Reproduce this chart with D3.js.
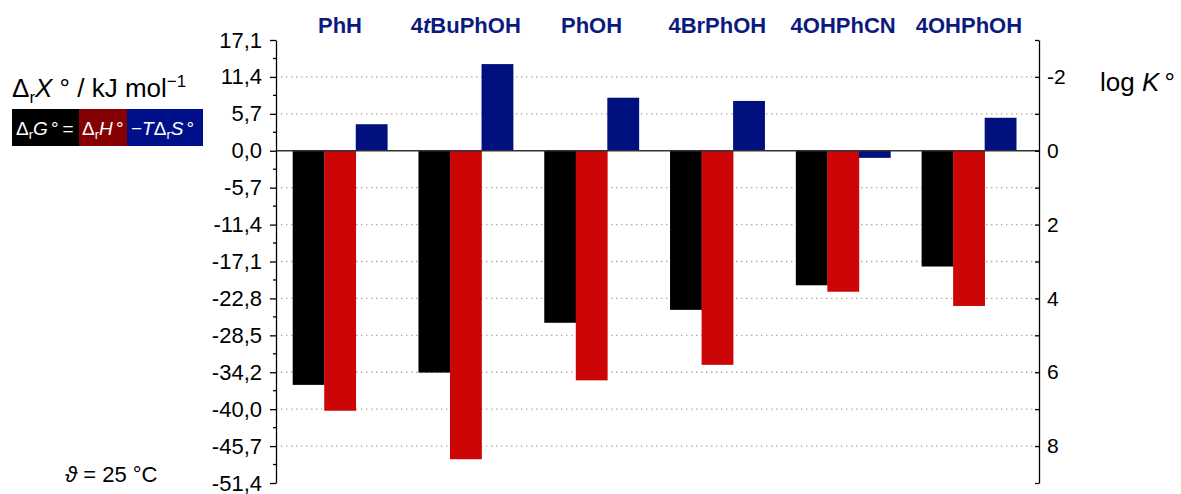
<!DOCTYPE html>
<html><head><meta charset="utf-8">
<script src="https://cdn.jsdelivr.net/npm/d3@7"></script>
<style>
body{margin:0;background:#fff}
svg{display:block}
text{font-family:"Liberation Sans",Arial,sans-serif}
</style>
</head><body><svg id="c" width="1181" height="494"></svg>
<script>
// ---- data ----
const categories = ["PhH","4tBuPhOH","PhOH","4BrPhOH","4OHPhCN","4OHPhOH"];
const dG   = [-36.2,-34.3,-26.6,-24.6,-20.8,-17.9];   // ΔrG° kJ/mol
const dH   = [-40.2,-47.7,-35.5,-33.1,-21.8,-24.0];   // ΔrH° kJ/mol
const mTdS = [4.1,13.4,8.2,7.7,-1.1,5.1];             // −TΔrS° kJ/mol
const logKTicks = [-3,-2,-1,0,1,2,3,4,5,6,7,8,9];
const kJTickLabels = ["17,1","11,4","5,7","0,0","-5,7","-11,4","-17,1","-22,8","-28,5","-34,2","-40,0","-45,7","-51,4"];
const logKTickLabels = ["","-2","","0","","2","","4","","6","","8",""];
const RTln10 = 5.708; // kJ/mol at 25 °C

const series = [
  {key:"dG", values:dG, color:"#000000"},
  {key:"dH", values:dH, color:"#cc0606"},
  {key:"mTdS", values:mTdS, color:"#00107f"}
];

const svg = d3.select("#c");
const yTop = 40, yBot = 483, xL = 276, xR = 1039;

const y = d3.scaleLinear().domain([-logKTicks[0]*RTln10, -logKTicks[logKTicks.length-1]*RTln10]).range([yTop,yBot]);
const yK = d3.scaleLinear().domain([logKTicks[0], logKTicks[logKTicks.length-1]]).range([yTop,yBot]);

const x0 = d3.scaleBand().domain(categories).range([277.1,1031.8]).paddingInner(0.248).paddingOuter(0.124);
const x1 = d3.scaleBand().domain(series.map(s=>s.key)).range([0,x0.bandwidth()]);

// gridlines
const gridVals = logKTicks.slice(1,-1).filter(k=>k!==0).map(k=>-k*RTln10);
svg.append("g").selectAll("line").data(gridVals).join("line")
  .attr("x1",xL).attr("x2",xR).attr("y1",d=>y(d)).attr("y2",d=>y(d))
  .attr("stroke","#a8a8a8").attr("stroke-width",1.4).attr("stroke-dasharray","1.4,3.6");

// bars
const gBars = svg.append("g");
series.forEach(s=>{
  gBars.append("g").selectAll("rect").data(categories).join("rect")
    .attr("x",(c)=>x0(c)+x1(s.key))
    .attr("width",x1.bandwidth()+0.3)
    .attr("y",(c,i)=>Math.min(y(s.values[i]),y(0)))
    .attr("height",(c,i)=>Math.abs(y(s.values[i])-y(0)))
    .attr("fill",s.color);
});

// zero line
svg.append("line").attr("x1",xL).attr("x2",xR).attr("y1",y(0)).attr("y2",y(0))
  .attr("stroke","#333").attr("stroke-width",1.3);

// left axis
const leftAxis = d3.axisLeft(y)
  .tickValues(logKTicks.map(k=>-k*RTln10))
  .tickFormat((d,i)=>kJTickLabels[i])
  .tickSizeInner(6).tickSizeOuter(0).tickPadding(8);
const gl = svg.append("g").attr("transform",`translate(${xL},0)`).call(leftAxis);
gl.selectAll("text").attr("font-size",22).attr("fill","#000").style("font-family","'Liberation Sans',Arial,sans-serif");
const minorL = [];
for(let i=0;i<logKTicks.length-1;i++) minorL.push(-(logKTicks[i]+0.5)*RTln10);
gl.append("g").selectAll("line").data(minorL).join("line")
  .attr("x1",-3).attr("x2",0).attr("y1",d=>y(d)).attr("y2",d=>y(d)).attr("stroke","#000").attr("stroke-width",1.3);
gl.selectAll("path.domain,.tick line").attr("stroke","#000").attr("stroke-width",1.3);

// right axis
const rightAxis = d3.axisRight(yK)
  .tickValues(logKTicks)
  .tickFormat((d,i)=>logKTickLabels[i])
  .tickSizeInner(-4).tickSizeOuter(0).tickPadding(8);
const gr = svg.append("g").attr("transform",`translate(${xR},0)`).call(rightAxis);
gr.selectAll("text").attr("font-size",21).attr("fill","#000").style("font-family","'Liberation Sans',Arial,sans-serif");
gr.selectAll("path.domain,.tick line").attr("stroke","#000").attr("stroke-width",1.3);

// category labels
const italicAt = {"4tBuPhOH":1};
const gc = svg.append("g");
categories.forEach(c=>{
  const t = gc.append("text").attr("x",x0(c)+x0.bandwidth()/2).attr("y",33)
    .attr("text-anchor","middle").attr("font-size",22).attr("font-weight","bold").attr("fill","#0c1a80");
  if(c in italicAt){
    const k = italicAt[c];
    t.append("tspan").text(c.slice(0,k));
    t.append("tspan").attr("font-style","italic").text(c[k]);
    t.append("tspan").text(c.slice(k+1));
  } else t.text(c);
});

// left title
const tt = svg.append("text").attr("x",12).attr("y",97).attr("font-size",26).attr("fill","#000");
tt.append("tspan").text("Δ");
tt.append("tspan").attr("font-size",17).attr("dy",6).text("r");
tt.append("tspan").attr("dy",-6).attr("font-style","italic").text("X");
tt.append("tspan").text(" ° / kJ mol");
tt.append("tspan").attr("font-size",17).attr("dy",-10).text("−1");

// legend box
const lg = svg.append("g");
lg.append("rect").attr("x",12).attr("y",109).attr("width",67).attr("height",37).attr("fill","#000");
lg.append("rect").attr("x",79).attr("y",109).attr("width",48).attr("height",37).attr("fill","#850000");
lg.append("rect").attr("x",127).attr("y",109).attr("width",76).attr("height",37).attr("fill","#00108a");
function sym(x, parts){
  const t = lg.append("text").attr("x",x).attr("y",135).attr("font-size",19).attr("fill","#fff");
  parts.forEach(p=>{
    const s = t.append("tspan").text(p.t);
    if(p.i) s.attr("font-style","italic");
    if(p.sub){ s.attr("font-size",13).attr("dy",4); }
    if(p.up){ s.attr("dy",-4); }
  });
}
sym(16,[{t:"Δ"},{t:"r",sub:1},{t:"G",i:1,up:1},{t:"\u2006°"},{t:"\u2009="}]);
sym(82,[{t:"Δ"},{t:"r",sub:1},{t:"H",i:1,up:1},{t:"\u2006°"}]);
sym(131,[{t:"−"},{t:"T",i:1},{t:"Δ"},{t:"r",sub:1},{t:"S",i:1,up:1},{t:"\u2006°"}]);

// right title
const rt = svg.append("text").attr("x",1100).attr("y",91).attr("font-size",26).attr("fill","#000");
rt.append("tspan").text("log ");
rt.append("tspan").attr("font-style","italic").text("K");
rt.append("tspan").text("\u2009°");

// temperature
const tp = svg.append("text").attr("x",65).attr("y",482).attr("font-size",22).attr("fill","#000");
tp.append("tspan").attr("font-style","italic").text("ϑ");
tp.append("tspan").text(" = 25 °C");
</script>
</body></html>
